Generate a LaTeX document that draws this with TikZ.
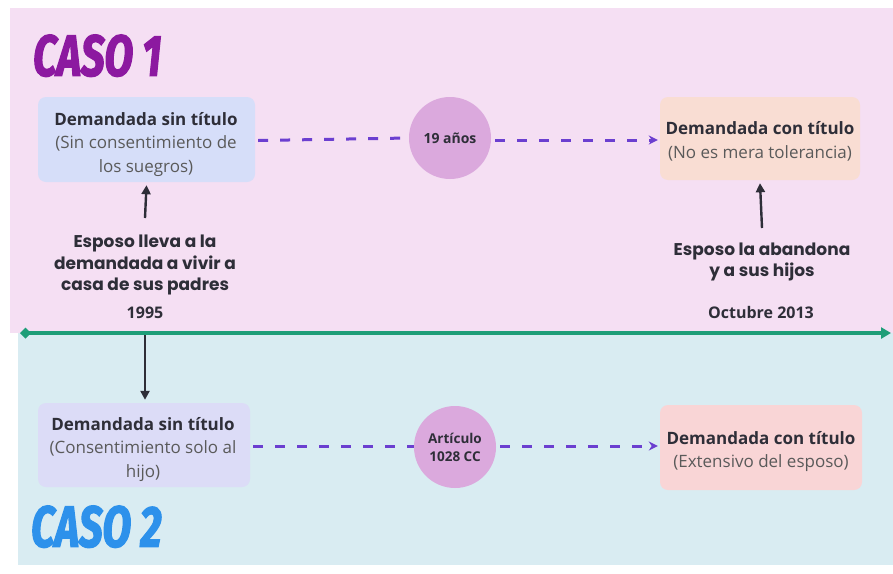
\documentclass[tikz,border=0pt]{standalone}
\usepackage{fontspec}
\setmainfont{Open Sans}
\newfontfamily\popfont{Poppins}
\newfontfamily\casofont[FakeStretch=0.72, FakeBold=2.2]{Fira Sans}
\usetikzlibrary{arrows.meta}
\definecolor{pinkbg}{HTML}{F5DFF3}
\definecolor{bluebg}{HTML}{D9ECF2}
\definecolor{boxlav}{HTML}{D6DEF9}
\definecolor{boxlavb}{HTML}{DCDCF7}
\definecolor{boxpeach}{HTML}{F9DDD3}
\definecolor{boxrose}{HTML}{F9D5D6}
\definecolor{circ}{HTML}{DBA9DD}
\definecolor{dashcol}{HTML}{6B3FD0}
\definecolor{greenline}{HTML}{1E9E78}
\definecolor{darktxt}{HTML}{2E2E38}
\definecolor{greytxt}{HTML}{5A5A5A}
\definecolor{caso1}{HTML}{8C19A0}
\definecolor{caso2}{HTML}{2D91EB}
\tikzset{
  infobox/.style={rounded corners=8pt, inner sep=0pt},
  boxtext/.style={inner sep=0pt, align=center, text=greytxt,
    font=\fontsize{17}{23.5}\selectfont},
  circnode/.style={circle, fill=circ, inner sep=0pt, minimum size=82pt, align=center,
    text=darktxt, font=\fontsize{13.5}{18}\selectfont\bfseries},
  dasharrow/.style={dashcol, line width=3pt, dash pattern=on 10pt off 12pt},
  blackarrow/.style={line width=2.4pt, darktxt, -{Triangle[length=9pt,width=9pt]}},
  evtext/.style={align=center, text=darktxt, inner sep=0pt,
    font=\popfont\bfseries\fontsize{17}{21.5}\selectfont},
  datetext/.style={text=darktxt, inner sep=0pt, font=\bfseries\fontsize{16}{18}\selectfont},
  casotext/.style={inner sep=0pt, anchor=south west, font=\casofont\bfseries\itshape\fontsize{58}{60}\selectfont}
}
\newcommand{\bhead}[1]{{\color{darktxt}\bfseries #1}}
\begin{document}
\begin{tikzpicture}[x=1pt,y=-1pt]
\useasboundingbox (0,0) rectangle (893,573);
\fill[white] (0,0) rectangle (893,573);
\fill[pinkbg] (10,8) rectangle (893,333);
\fill[bluebg] (18,333) rectangle (893,565);

% titles
\node[casotext, text=caso1] (caso1) at (33,77) {CASO 1};
\node[casotext, text=caso2] (caso2) at (31,548) {CASO 2};

% boxes
\node[infobox, fill=boxlav, minimum width=217pt, minimum height=85pt] (b1) at (146.5,139.5) {};
\node[boxtext] (b1t) at (146,144.5) {\bhead{Demandada sin título}\\(Sin consentimiento de\\los suegros)};
\node[infobox, fill=boxpeach, minimum width=200pt, minimum height=83pt] (b2) at (760,138.5) {};
\node[boxtext] (b2t) at (760,141.5) {\bhead{Demandada con título}\\(No es mera tolerancia)};
\node[infobox, fill=boxlavb, minimum width=212pt, minimum height=84pt] (b3) at (144,445) {};
\node[boxtext] (b3t) at (143,449.5) {\bhead{Demandada sin título}\\(Consentimiento solo al\\hijo)};
\node[infobox, fill=boxrose, minimum width=202pt, minimum height=85pt] (b4) at (761,447.5) {};
\node[boxtext] (b4t) at (761,451.5) {\bhead{Demandada con título}\\(Extensivo del esposo)};

% circles
\node[circnode, font=\fontsize{14}{18}\selectfont\bfseries] (c1) at (450,138) {19 años};
\node[circnode] (c2) at (455,447) {Artículo\\1028 CC};

% dashed connectors
\draw[dasharrow] ([xshift=3pt,yshift=-1pt]b1.east) -- (c1.west);
\draw[dasharrow, -{Stealth[length=9pt,width=9pt]}] ([xshift=4pt]c1.east |- 0,140) -- ([xshift=-2pt]b2.west |- 0,140);
\draw[dasharrow] ([xshift=3pt]b3.east |- 0,446) -- (c2.west |- 0,446);
\draw[dasharrow, -{Stealth[length=9pt,width=9pt]}] ([xshift=4pt]c2.east |- 0,446) -- ([xshift=-2pt]b4.west |- 0,446);

% event texts
\node[evtext] (e1) at (145,265) {Esposo lleva a la\\demandada a vivir a\\casa de sus padres};
\node[evtext] (e2) at (762,262) {Esposo la abandona\\y a sus hijos};
\node[datetext] (d1) at (145,312.5) {1995};
\node[datetext] (d2) at (761,312.5) {Octubre 2013};

% timeline
\coordinate (tl0) at (20,333);
\coordinate (tl1) at (891,333);
\draw[greenline, line width=3.5pt, {Turned Square[length=11pt,width=11pt]}-{Triangle[length=10pt,width=11pt]}] (tl0) -- (tl1);

% black arrows
\draw[blackarrow] (145,218) -- ([yshift=-3pt]b1.south);
\draw[blackarrow] (762,228) -- ([yshift=-3pt]b2.south);
\coordinate (dstart) at (145,335);
\draw[blackarrow] (dstart) -- ([yshift=3pt]b3.north -| dstart);
\end{tikzpicture}
\end{document}
